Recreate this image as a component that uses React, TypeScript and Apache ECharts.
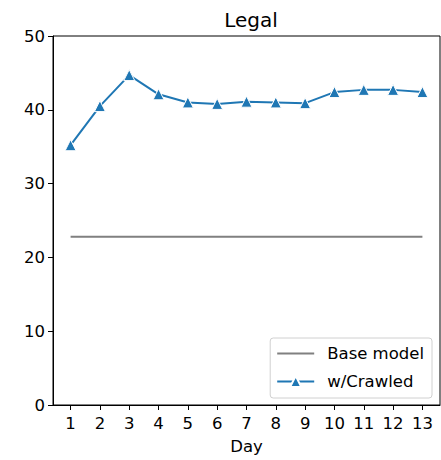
import React, { useEffect, useRef } from "react";
import * as echarts from "echarts";

const days = [1, 2, 3, 4, 5, 6, 7, 8, 9, 10, 11, 12, 13];
const crawled = [35.2, 40.5, 44.7, 42.1, 41.0, 40.8, 41.1, 41.0, 40.9, 42.4, 42.7, 42.7, 42.4];
const baseModel = [22.8, 22.8, 22.8, 22.8, 22.8, 22.8, 22.8, 22.8, 22.8, 22.8, 22.8, 22.8, 22.8];
const yTicks = [0, 10, 20, 30, 40, 50];

const FONT = "DejaVu Sans";

export default function App() {
  const ref = useRef<HTMLDivElement>(null);
  useEffect(() => {
    if (!ref.current) return;
    const chart = echarts.init(ref.current, null, { renderer: "svg" });
    chart.setOption({
      animation: false,
      backgroundColor: "#ffffff",
      textStyle: { fontFamily: FONT },
      title: {
        text: "Legal",
        left: 246,
        textAlign: "center",
        top: 5,
        textStyle: { fontFamily: FONT, fontSize: 20, fontWeight: "normal", color: "#000" },
      },
      grid: {
        left: 53,
        right: 1,
        top: 36,
        bottom: 52,
        show: true,
        borderColor: "#000",
        borderWidth: 1,
        backgroundColor: "transparent",
      },
      legend: {
        right: 9,
        bottom: 62,
        orient: "vertical",
        itemWidth: 37,
        itemHeight: 14,
        itemGap: 11,
        padding: [7, 8, 8, 6],
        backgroundColor: "#fff",
        borderColor: "#d0d0d0",
        borderWidth: 1,
        borderRadius: 3,
        textStyle: { fontFamily: FONT, fontSize: 16.5, color: "#000", padding: [0, 0, 0, 8] },
        data: [
          { name: "Base model", icon: "path://M0,6 L37,6 L37,8 L0,8 Z", itemStyle: { color: "#808080" } },
          { name: "w/Crawled" },
        ],
      },
      xAxis: {
        type: "value",
        min: 0.4,
        max: 13.6,
        name: "Day",
        nameLocation: "middle",
        nameGap: 33,
        nameTextStyle: { fontFamily: FONT, fontSize: 16.5, color: "#000" },
        axisLine: { show: true, onZero: false, lineStyle: { color: "#000" } },
        axisTick: { show: true, length: 5, customValues: days, lineStyle: { color: "#000" } },
        axisLabel: { customValues: days, fontFamily: FONT, fontSize: 16.5, color: "#000", margin: 10 },
        splitLine: { show: false },
      },
      yAxis: {
        type: "value",
        min: 0,
        max: 50,
        interval: 10,
        axisLine: { show: true, lineStyle: { color: "#000" } },
        axisTick: { show: true, length: 5, customValues: yTicks, lineStyle: { color: "#000" } },
        axisLabel: { customValues: yTicks, fontFamily: FONT, fontSize: 16.5, color: "#000", margin: 8 },
        splitLine: { show: false },
      },
      series: [
        {
          name: "Base model",
          type: "line",
          data: days.map((d, i) => [d, baseModel[i]]),
          symbol: "none",
          lineStyle: { color: "#808080", width: 2 },
          itemStyle: { color: "#808080" },
        },
        {
          name: "w/Crawled",
          type: "line",
          data: days.map((d, i) => [d, crawled[i]]),
          symbol: "triangle",
          symbolSize: 11,
          lineStyle: { color: "#1f77b4", width: 2 },
          itemStyle: { color: "#1f77b4", borderColor: "#ffffff", borderWidth: 1 },
        },
      ],
    });
    return () => chart.dispose();
  }, []);
  return <div ref={ref} style={{ width: 441, height: 460, position: "absolute", left: 0, top: 0 }} />;
}
